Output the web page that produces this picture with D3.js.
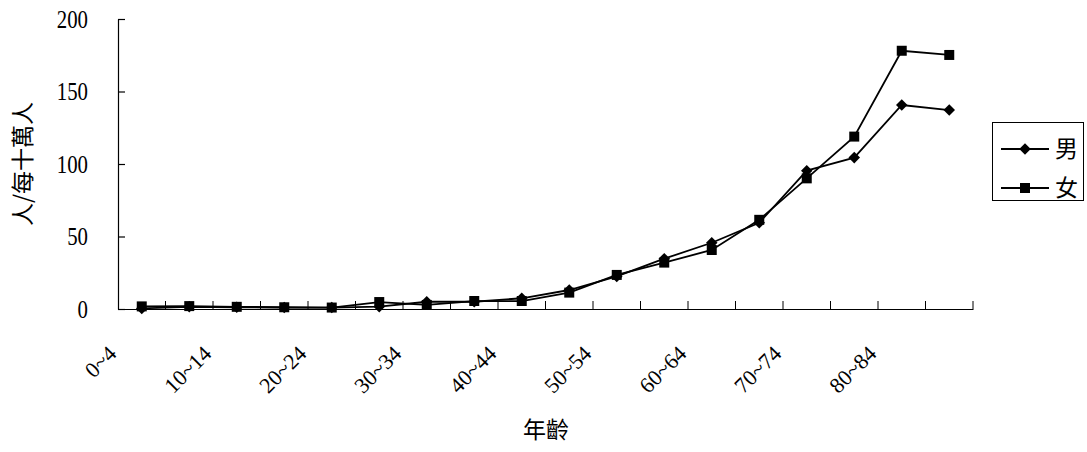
<!DOCTYPE html>
<html>
<head>
<meta charset="utf-8">
<script src="https://cdn.jsdelivr.net/npm/d3@7"></script>
<style>
  body { margin: 0; background: #fff; }
  svg { display: block; }
</style>
</head>
<body>
<svg id="chart" width="1087" height="452"></svg>
<script>
// age groups, 5 year bands
var ageGroups = ['0~4', '5~9', '10~14', '15~19', '20~24', '25~29', '30~34', '35~39', '40~44',
  '45~49', '50~54', '55~59', '60~64', '65~69', '70~74', '75~79', '80~84', '85+'];
// rate per 100,000 people
var maleValues = [0.4, 1.5, 1.2, 1.0, 1.0, 1.6, 5.0, 5.0, 7.4, 13.1, 22.5, 34.7, 45.7, 59.5, 95.4, 104.4, 140.7, 137.2];
var femaleValues = [1.8, 2.0, 1.5, 1.2, 1.0, 4.8, 2.8, 5.5, 5.5, 11.3, 23.5, 32.0, 40.7, 61.5, 90.1, 118.9, 178.1, 175.2];
var yTicks = [0, 50, 100, 150, 200];
var seriesNames = ['男', '女'];

var svg = d3.select('#chart'),
  plotLeft = 118, plotRight = 973, plotTop = 19, plotBottom = 309,
  numFont = '"Liberation Serif", "DejaVu Serif", serif',
  cjkFont = '"Noto Sans CJK TC", "Noto Sans CJK SC", sans-serif';

var x = d3.scaleBand().domain(ageGroups).range([plotLeft, plotRight]).padding(0);
var y = d3.scaleLinear().domain([0, 200]).range([plotBottom, plotTop]);

// y axis, ticks pointing inside
var yAxis = svg.append('g')
  .attr('transform', 'translate(' + plotLeft + ',0)')
  .call(d3.axisLeft(y).tickValues(yTicks).tickSizeInner(-7).tickSizeOuter(0).tickPadding(30));
// the old font is tall and narrow, so squeeze the digits a bit
yAxis.selectAll('text')
  .attr('font-family', numFont).attr('font-size', 25).attr('fill', '#000')
  .attr('dy', '0.33em')
  .attr('textLength', function (d) { return String(d).length * 10.4; })
  .attr('lengthAdjust', 'spacingAndGlyphs');

// x axis line + labels on every other group
var xAxis = svg.append('g')
  .attr('transform', 'translate(0,' + plotBottom + ')')
  .call(d3.axisBottom(x).tickValues(ageGroups.filter(function (d, i) { return i % 2 == 0; })).tickSize(0).tickSizeOuter(0));
xAxis.selectAll('text')
  .attr('font-family', numFont).attr('font-size', 22).attr('fill', '#000')
  .attr('text-anchor', 'end').attr('x', 0).attr('y', 0).attr('dy', 0)
  .attr('transform', 'translate(-24,46) rotate(-45)');

// tick marks on band borders, pointing up
xAxis.selectAll('line.border')
  .data(ageGroups.slice(1).concat(['end']))
  .enter().append('line')
  .attr('class', 'border')
  .attr('x1', function (d) { return d == 'end' ? plotRight : x(d); })
  .attr('x2', function (d) { return d == 'end' ? plotRight : x(d); })
  .attr('y1', 0).attr('y2', -8)
  .attr('stroke', '#000');

svg.selectAll('.domain, .tick line').attr('stroke', '#000').attr('stroke-width', 1.2);

// axis titles
svg.append('text')
  .attr('transform', 'translate(31,164) rotate(-90)')
  .attr('text-anchor', 'middle')
  .attr('font-family', cjkFont).attr('font-size', 23)
  .text('人/每十萬人');

svg.append('text')
  .attr('x', 546).attr('y', 438)
  .attr('text-anchor', 'middle')
  .attr('font-family', cjkFont).attr('font-size', 23)
  .text('年齡');

var cx = function (d, i) { return x(ageGroups[i]) + x.bandwidth() / 2; };
var line = d3.line().x(cx).y(function (d) { return y(d); });
var diamond = d3.symbol().type(d3.symbolDiamond2).size(85);
var square = d3.symbol().type(d3.symbolSquare).size(100);
var shapes = [diamond, square];

[maleValues, femaleValues].forEach(function (vals, s) {
  svg.append('path').datum(vals)
    .attr('d', line).attr('fill', 'none')
    .attr('stroke', '#000').attr('stroke-width', 1.8);
  svg.selectAll('path.m' + s).data(vals).enter().append('path')
    .attr('class', 'm' + s)
    .attr('transform', function (d, i) { return 'translate(' + cx(d, i) + ',' + y(d) + ')'; })
    .attr('d', shapes[s]).attr('fill', '#000');
});

// legend
var legend = svg.append('g');
legend.append('rect')
  .attr('x', 992.5).attr('y', 122.5).attr('width', 91).attr('height', 78)
  .attr('fill', '#fff').attr('stroke', '#000').attr('stroke-width', 1);
seriesNames.forEach(function (name, s) {
  var ly = 149 + s * 39;
  legend.append('line').attr('x1', 1001).attr('x2', 1049).attr('y1', ly).attr('y2', ly)
    .attr('stroke', '#000').attr('stroke-width', 1.8);
  legend.append('path').attr('transform', 'translate(1025,' + ly + ')').attr('d', shapes[s]).attr('fill', '#000');
  legend.append('text').attr('x', 1055).attr('y', ly).attr('dy', '0.36em')
    .attr('font-family', cjkFont).attr('font-size', 23).text(name);
});
</script>
</body>
</html>
